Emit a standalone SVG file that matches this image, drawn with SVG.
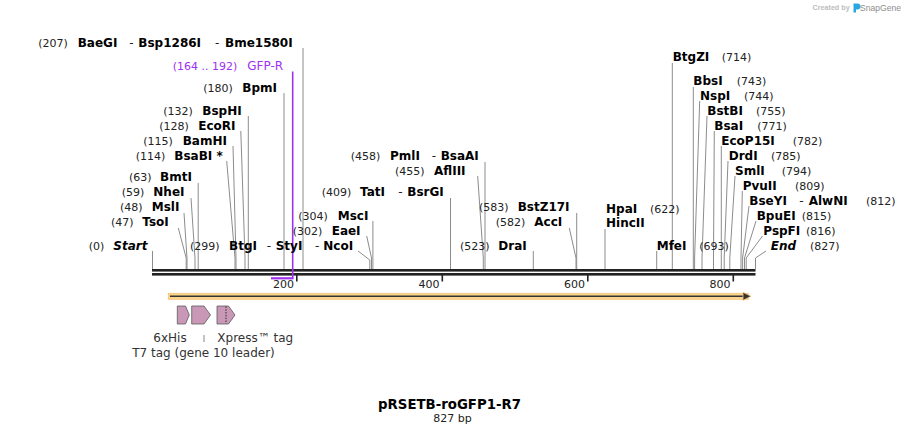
<svg xmlns="http://www.w3.org/2000/svg" width="908" height="435" viewBox="0 0 908 435">
<style>
text{font-family:"DejaVu Sans","Verdana",sans-serif}
.nm{font-size:12px;font-weight:bold;fill:#000}
.ps{font-size:11px;fill:#222}
.sep{font-size:12px;fill:#222}
.it{font-style:italic}
.cut{stroke:#8c8c8c;stroke-width:1;fill:none}
.seq{fill:#222}
.tick{fill:#222}
.tk{font-size:11px;fill:#222;text-anchor:end}
.prim{stroke:#a030f0;fill:none}
.ft{fill:#c898b6;stroke:#5a5a5a;stroke-width:0.8}
.fl{font-size:12px;fill:#333}
</style>
<rect width="908" height="435" fill="#fff"/>

<!-- watermark -->
<g id="watermark">
<text x="812.5" y="10" style="font-family:'Liberation Sans',Arial,sans-serif;font-size:7.2px;font-weight:bold;fill:#bdbdbd">Created by</text>
<path d="M853.5 3.5 h4 q3 0 3 3 q0 3 -3 3 h-1.5 v3 h-2.5 z" fill="#2aa7e0"/>
<text x="860" y="11" style="font-family:'Liberation Sans',Arial,sans-serif;font-size:8.6px;fill:#8e8e8e">SnapGene</text>
</g>

<!-- connectors -->
<g id="connectors">
<path class="cut" d="M303 48V269"/>
<path class="cut" d="M284 93V269"/>
<path class="cut" d="M248.3 116V269"/>
<path class="cut" d="M240.8 131L245 258V269"/>
<path class="cut" d="M233 146L236 258V269"/>
<path class="cut" d="M226.7 161L235 258V269"/>
<path class="cut" d="M198.2 183V269"/>
<path class="cut" d="M191 198L195 258V269"/>
<path class="cut" d="M184 213L187 258V269"/>
<path class="cut" d="M178.3 228L186.2 258V269"/>
<path class="cut" d="M152.5 251V269"/>
<path class="cut" d="M358 251L369.8 260V269"/>
<path class="cut" d="M366.7 236L371.5 258V269"/>
<path class="cut" d="M372.9 221V269"/>
<path class="cut" d="M450.5 198V269"/>
<path class="cut" d="M485 162V269"/>
<path class="cut" d="M477.7 176L483.3 258V269"/>
<path class="cut" d="M576.7 213V269"/>
<path class="cut" d="M569.3 228L576 258V269"/>
<path class="cut" d="M533.3 251V269"/>
<path class="cut" d="M605 229V269"/>
<path class="cut" d="M656.7 251V269"/>
<path class="cut" d="M672.3 63V269"/>
<path class="cut" d="M693.3 87V269"/>
<path class="cut" d="M699.7 101L694.6 258V269"/>
<path class="cut" d="M707 116L702 258V269"/>
<path class="cut" d="M714.3 131L713.5 258V269"/>
<path class="cut" d="M721.3 146L721.3 269"/>
<path class="cut" d="M728 161L724.2 258V269"/>
<path class="cut" d="M735 176L729.8 258V269"/>
<path class="cut" d="M742.3 191L741 258V269"/>
<path class="cut" d="M749 206L742.6 258V269"/>
<path class="cut" d="M756 221L744.5 258V269"/>
<path class="cut" d="M762.5 236L746.2 258V269"/>
<path class="cut" d="M766 251L755.5 258V269"/>
<line x1="204" y1="335" x2="204" y2="342" stroke="#888" stroke-width="1"/>
</g>

<!-- sequence backbone -->
<g id="backbone">
<rect class="seq" x="152" y="269" width="603.5" height="2.6"/>
<rect class="seq" x="152" y="273" width="603.5" height="2.6"/>
<rect class="tick" x="296" y="275" width="1.6" height="6.5"/>
<rect class="tick" x="441.5" y="275" width="1.6" height="6.5"/>
<rect class="tick" x="587" y="275" width="1.6" height="6.5"/>
<rect class="tick" x="732.5" y="275" width="1.6" height="6.5"/>
<text class="tk" x="294" y="287.5">200</text>
<text class="tk" x="439.5" y="287.5">400</text>
<text class="tk" x="585" y="287.5">600</text>
<text class="tk" x="730.5" y="287.5">800</text>
</g>

<!-- primer GFP-R -->
<g id="primer-GFP-R">
<path class="prim" stroke-width="1.6" d="M292.7 71.5V278.3"/>
<path class="prim" stroke-width="2.2" d="M271 278.3H293.5"/>
<text x="172.7" y="69.5" style="font-size:11px;fill:#a030f0">(164 .. 192)</text>
<text x="247.3" y="69.5" style="font-size:12px;fill:#a030f0">GFP-R</text>
</g>

<!-- orange feature -->
<g id="feature-orf">
<rect x="168.3" y="293.3" width="580" height="6" fill="#fbd48c" stroke="#f5c374" stroke-width="0.8"/>
<line x1="170" y1="296.3" x2="745" y2="296.3" stroke="#333" stroke-width="1.4"/>
<path d="M743 292.3L751 296.3L743 300.3Z" fill="#333" stroke="#f5c374" stroke-width="0.8"/>
</g>

<!-- small features -->
<g id="feature-6xHis">
<path class="ft" d="M177.3 306H185.5L189.3 315L185.5 324H177.3Z"/>
<text class="fl" x="153.3" y="342">6xHis</text>
</g>
<g id="feature-T7tag">
<path class="ft" d="M191.7 306H204L210.5 315L204 324H191.7Z"/>
<text class="fl" x="203.5" y="357" text-anchor="middle">T7 tag (gene 10 leader)</text>
</g>
<g id="feature-Xpress">
<path class="ft" d="M217 306H228.5L235 315L228.5 324H217Z"/>
<line x1="226" y1="306.5" x2="226" y2="323.5" stroke="#222" stroke-width="1" stroke-dasharray="1.4,1.4"/>
<text class="fl" x="217.3" y="342">Xpress™ tag</text>
</g>

<!-- left labels -->
<g id="site-207">
<text class="ps" x="38.3" y="47">(207)</text>
<text class="nm" x="77.7" y="47">BaeGI</text>
<text class="sep" x="129.3" y="47">-</text>
<text class="nm" x="138.3" y="47">Bsp1286I</text>
<text class="sep" x="215" y="47">-</text>
<text class="nm" x="225" y="47">Bme1580I</text>
</g>
<g id="site-BpmI"><text class="ps" x="203.3" y="92">(180)</text><text class="nm" x="242.3" y="92">BpmI</text></g>
<g id="site-BspHI"><text class="ps" x="163.3" y="114.5">(132)</text><text class="nm" x="202.3" y="114.5">BspHI</text></g>
<g id="site-EcoRI"><text class="ps" x="159.3" y="129.5">(128)</text><text class="nm" x="198.3" y="129.5">EcoRI</text></g>
<g id="site-BamHI"><text class="ps" x="143.3" y="144.5">(115)</text><text class="nm" x="182.7" y="144.5">BamHI</text></g>
<g id="site-BsaBI"><text class="ps" x="135.7" y="159.5">(114)</text><text class="nm" x="174.3" y="159.5">BsaBI *</text></g>
<g id="site-BmtI"><text class="ps" x="129" y="181">(63)</text><text class="nm" x="160" y="181">BmtI</text></g>
<g id="site-NheI"><text class="ps" x="121.7" y="196">(59)</text><text class="nm" x="153.3" y="196">NheI</text></g>
<g id="site-MslI"><text class="ps" x="120" y="211">(48)</text><text class="nm" x="151.7" y="211">MslI</text></g>
<g id="site-TsoI"><text class="ps" x="111" y="226">(47)</text><text class="nm" x="142.3" y="226">TsoI</text></g>
<g id="site-Start"><text class="ps" x="88.7" y="249.5">(0)</text><text class="nm it" x="113.3" y="249.5">Start</text></g>
<g id="site-299">
<text class="ps" x="190" y="249.5">(299)</text>
<text class="nm" x="229" y="249.5">BtgI</text>
<text class="sep" x="266.7" y="249.5">-</text>
<text class="nm" x="275.7" y="249.5">StyI</text>
<text class="sep" x="315" y="249.5">-</text>
<text class="nm" x="323.3" y="249.5">NcoI</text>
</g>
<g id="site-MscI"><text class="ps" x="298.3" y="219.5">(304)</text><text class="nm" x="337.7" y="219.5">MscI</text></g>
<g id="site-EaeI"><text class="ps" x="292.7" y="234.5">(302)</text><text class="nm" x="331.7" y="234.5">EaeI</text></g>
<g id="site-409"><text class="ps" x="321.7" y="196">(409)</text><text class="nm" x="360" y="196">TatI</text><text class="sep" x="398.3" y="196">-</text><text class="nm" x="407.3" y="196">BsrGI</text></g>
<g id="site-458"><text class="ps" x="350.7" y="159.5">(458)</text><text class="nm" x="390" y="159.5">PmlI</text><text class="sep" x="431.7" y="159.5">-</text><text class="nm" x="440.7" y="159.5">BsaAI</text></g>
<g id="site-AflIII"><text class="ps" x="395" y="174.5">(455)</text><text class="nm" x="434" y="174.5">AflIII</text></g>
<g id="site-BstZ17I"><text class="ps" x="479" y="211">(583)</text><text class="nm" x="517.7" y="211">BstZ17I</text></g>
<g id="site-AccI"><text class="ps" x="495.7" y="226">(582)</text><text class="nm" x="534.3" y="226">AccI</text></g>
<g id="site-DraI"><text class="ps" x="460" y="249.5">(523)</text><text class="nm" x="498.3" y="249.5">DraI</text></g>

<!-- right labels -->
<g id="site-HpaI"><text class="nm" x="606" y="212.5">HpaI</text><text class="ps" x="650" y="212.5">(622)</text><text class="nm" x="606" y="227">HincII</text></g>
<g id="site-MfeI"><text class="nm" x="656.7" y="249.5">MfeI</text><text class="ps" x="699.3" y="249.5">(693)</text></g>
<g id="site-BtgZI"><text class="nm" x="672.7" y="61">BtgZI</text><text class="ps" x="721.7" y="61">(714)</text></g>
<g id="site-BbsI"><text class="nm" x="693.3" y="84.5">BbsI</text><text class="ps" x="736.7" y="84.5">(743)</text></g>
<g id="site-NspI"><text class="nm" x="700" y="99.5">NspI</text><text class="ps" x="744" y="99.5">(744)</text></g>
<g id="site-BstBI"><text class="nm" x="707.3" y="114.5">BstBI</text><text class="ps" x="756" y="114.5">(755)</text></g>
<g id="site-BsaI"><text class="nm" x="714.3" y="129.5">BsaI</text><text class="ps" x="757.3" y="129.5">(771)</text></g>
<g id="site-EcoP15I"><text class="nm" x="721.3" y="144.5">EcoP15I</text><text class="ps" x="792.7" y="144.5">(782)</text></g>
<g id="site-DrdI"><text class="nm" x="728.7" y="159.5">DrdI</text><text class="ps" x="771" y="159.5">(785)</text></g>
<g id="site-SmlI"><text class="nm" x="735" y="174.5">SmlI</text><text class="ps" x="781.7" y="174.5">(794)</text></g>
<g id="site-PvuII"><text class="nm" x="742.7" y="189.5">PvuII</text><text class="ps" x="795" y="189.5">(809)</text></g>
<g id="site-812"><text class="nm" x="749.3" y="204.5">BseYI</text><text class="sep" x="799.3" y="204.5">-</text><text class="nm" x="808.7" y="204.5">AlwNI</text><text class="ps" x="866" y="204.5">(812)</text></g>
<g id="site-BpuEI"><text class="nm" x="756.7" y="219.5">BpuEI</text><text class="ps" x="801.7" y="219.5">(815)</text></g>
<g id="site-PspFI"><text class="nm" x="763.3" y="234.5">PspFI</text><text class="ps" x="806" y="234.5">(816)</text></g>
<g id="site-End"><text class="nm it" x="770.7" y="249.5">End</text><text class="ps" x="810" y="249.5">(827)</text></g>

<!-- title -->
<g id="title">
<text x="449.5" y="409" text-anchor="middle" style="font-size:13.3px;font-weight:bold;fill:#000">pRSETB-roGFP1-R7</text>
<text x="452.5" y="421.5" text-anchor="middle" style="font-size:11px;fill:#222">827 bp</text>
</g>
</svg>
